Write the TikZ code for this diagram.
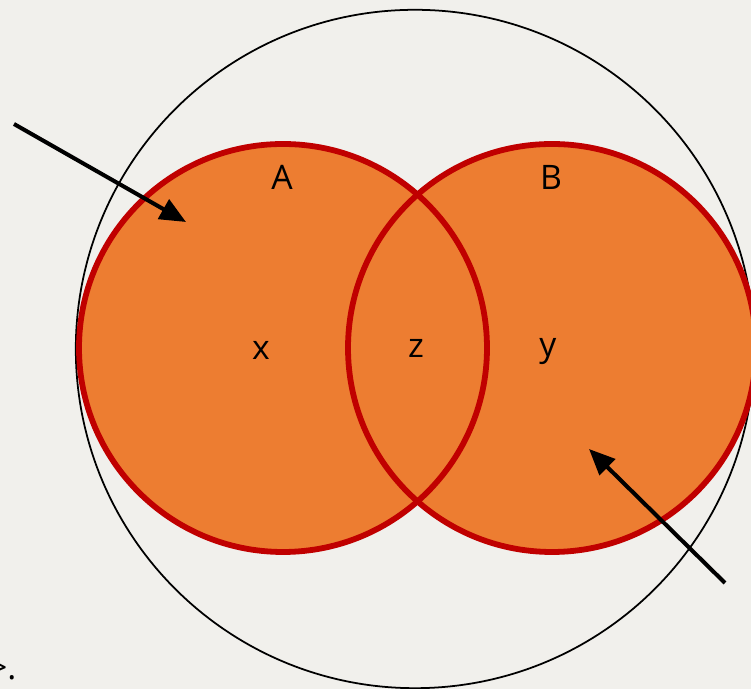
\documentclass[tikz,border=0pt]{standalone}
\usepackage{fontspec}
\setmainfont{Open Sans}
\usetikzlibrary{arrows.meta}
\definecolor{bgpaper}{HTML}{F1F0EC}
\definecolor{setfill}{HTML}{ED7D31}
\definecolor{setline}{HTML}{C00000}
\begin{document}
\begin{tikzpicture}[x=0.01cm, y=-0.01cm,
    setcircle/.style={circle, fill=setfill, minimum size=4.08cm, inner sep=0pt},
    setlabel/.style={font=\fontsize{9.6pt}{12pt}\selectfont, inner sep=0pt},
    pointer/.style={-{Triangle[length=0.26cm, width=0.22cm]}, line width=1.15pt}]
    % Background
    \fill[bgpaper] (0,0) rectangle (751,689);
    \useasboundingbox (0,0) rectangle (751,689);
    % Universe
    \node (universe) [circle, draw, line width=0.5pt, minimum size=6.78cm, inner sep=0pt] at (415,349) {};
    % Sets
    \node (setA) [setcircle] at (283,348) {};
    \node (setB) [setcircle] at (552,348) {};
    \draw[setline, line width=1.65pt] (setA.center) circle (204);
    \draw[setline, line width=1.65pt] (setB.center) circle (204);
    % Labels
    \node (labelA) [setlabel] at (282,177) {A};
    \node (labelB) [setlabel] at (551,177) {B};
    \node (onlyA) [setlabel] at (261,350) {x};
    \node (both) [setlabel] at (416,348) {z};
    \node (onlyB) [setlabel] at (548,352) {y};
    \node (cut) [setlabel, anchor=east] at (17,670) {>.};
    % Pointers
    \coordinate (tailA) at (14,124);
    \coordinate (headA) at (186,222);
    \coordinate (tailB) at (725,583);
    \coordinate (headB) at (589,449);
    \draw[pointer] (tailA) -- (headA);
    \draw[pointer] (tailB) -- (headB);
\end{tikzpicture}
\end{document}
